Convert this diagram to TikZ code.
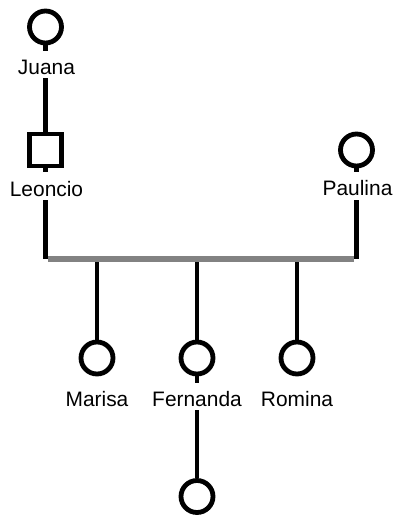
\documentclass[tikz,border=0pt]{standalone}
\usepackage{fontspec}
\setmainfont{Liberation Sans}
\definecolor{mgray}{RGB}{130,130,130}
\begin{document}
\begin{tikzpicture}[x=1bp,y=-1bp,
  fem/.style={circle,draw,line width=4.8bp,minimum size=32bp,inner sep=0pt},
  male/.style={rectangle,draw,line width=4.8bp,minimum size=32bp,inner sep=0pt},
  link/.style={line width=4.8bp},
  marriage/.style={line width=5.5bp,draw=mgray},
  lbl/.style={fill=white,inner sep=0pt,text height=24bp,text depth=3.5bp,anchor=base,font=\fontsize{21}{25}\selectfont}]
\useasboundingbox (0,0) rectangle (392,515);
% persons
\node[fem]  (juana)    at (45.5,27) {};
\node[male] (leoncio)  at (45.5,150) {};
\node[fem]  (paulina)  at (356.5,150) {};
\node[fem]  (marisa)   at (97,358) {};
\node[fem]  (fernanda) at (197,358) {};
\node[fem]  (romina)   at (297,358) {};
\node[fem]  (child)    at (197,496.5) {};
% marriage line points
\coordinate (mL) at (45.5,259);
\coordinate (mR) at (356.5,259);
\coordinate (gL) at (48,259);
\coordinate (gR) at (354,259);
\coordinate (d1) at (97,259);
\coordinate (d2) at (197,259);
\coordinate (d3) at (297,259);
% connectors
\draw[link] (juana) -- (leoncio);
\draw[link] (leoncio) -- (mL);
\draw[link] (paulina) -- (mR);
\draw[link] (d1) -- (marisa);
\draw[link] (d2) -- (fernanda);
\draw[link] (d3) -- (romina);
\draw[link] (fernanda) -- (child);
\draw[marriage] (gL) -- (gR);
% labels
\node[lbl] (ljuana)    at (46.5,75)    {Juana};
\node[lbl] (lleoncio)  at (46.5,196.5) {Leoncio};
\node[lbl] (lpaulina)  at (357.5,196)  {Paulina};
\node[lbl] (lmarisa)   at (97,406.5)   {Marisa};
\node[lbl] (lfernanda) at (197,406.5)  {Fernanda};
\node[lbl] (lromina)   at (297,406.5)  {Romina};
\end{tikzpicture}
\end{document}
